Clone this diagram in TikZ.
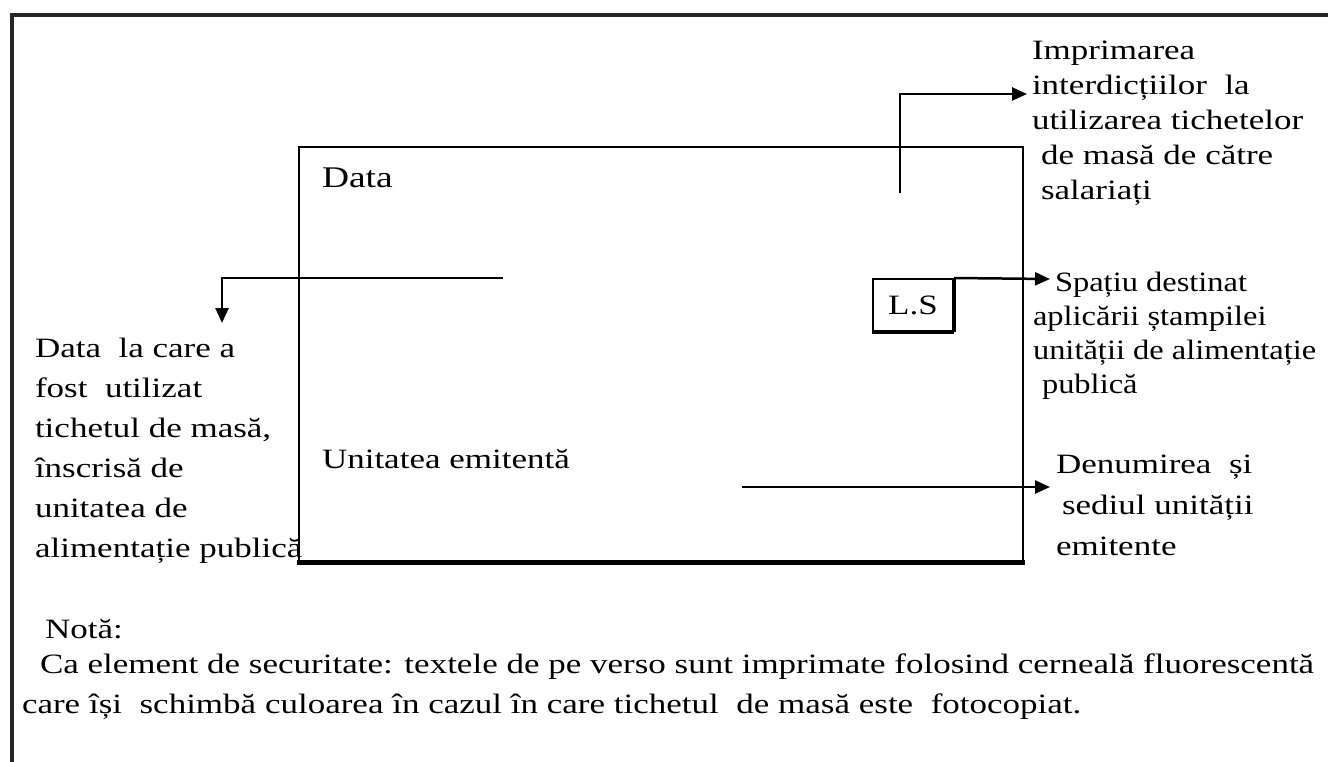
\documentclass[tikz,border=0pt]{standalone}
\usepackage{fontspec}
\setmainfont[FakeStretch=1.25]{Liberation Serif}
\newfontfamily\narrowserif[FakeStretch=1.16]{Liberation Serif}
\usetikzlibrary{arrows.meta}
\begin{document}
\begin{tikzpicture}[x=1pt,y=-1pt,
  txt/.style={inner sep=0pt, outer sep=0pt, align=left, anchor=base west, font=\fontsize{28}{40}\selectfont},
  conn/.style={line width=2.5pt, -{Triangle[length=15pt,width=13pt]}},
  framel/.style={line width=3.5pt, draw=black!85},
  ticket/.style={draw, line width=2pt, inner sep=0pt, anchor=north west},
  lsbox/.style={draw, line width=2pt, inner sep=0pt, anchor=north west, font=\fontsize{28}{34}\selectfont}]
\useasboundingbox (0,0) rectangle (1328,762);
% outer frame
\coordinate (F0) at (12,762);
\coordinate (F1) at (12,15);
\coordinate (F2) at (1328,15);
\draw[framel] (F0) -- (F1) -- (F2);
% ticket
\node[ticket, minimum width=724pt, minimum height=414pt] (ticket) at (298,146) {};
\draw[line width=5pt] ([xshift=-1pt]ticket.south west) -- ([xshift=1pt]ticket.south east);
\node[txt, font=\fontsize{30}{36}\selectfont] (data) at (322,188) {Data};
\node[txt] (unit) at (322,468) {Unitatea emitentă};
% L.S box
\node[lsbox, minimum width=80pt, minimum height=52pt] (ls) at (872,278) {L.S};
\draw[line width=4pt] (ls.south west) -- (ls.south east);
\draw[line width=4pt] (ls.north east) -- (ls.south east);
% labels (base west = baseline of the last line)
\node[txt, font=\fontsize{28}{35}\selectfont] (imp) at (1032,200) {Imprimarea\\interdicțiilor\ \ la\\utilizarea tichetelor\\\hspace{9pt}de masă de către\\\hspace{9pt}salariați};
\node[txt, font=\narrowserif\fontsize{28}{34}\selectfont] (spa) at (1033,393) {\hspace{22pt}Spațiu destinat\\aplicării ștampilei\\unității de alimentație\\\hspace{9pt}publică};
\node[txt] (datal) at (35,557) {Data\ \ la care a\\fost\ \ utilizat\\tichetul de masă,\\înscrisă de\\unitatea de\\alimentație publică};
\node[txt, font=\fontsize{28}{41}\selectfont] (den) at (1056,555) {Denumirea\ \ și\\\hspace{6pt}sediul unității\\emitente};
\node[txt] (nota) at (45,638) {Notă:};
\node[txt] (notb) at (40,673) {Ca element de securitate: textele de pe verso sunt imprimate folosind cerneală fluorescentă};
\node[txt] (notc) at (22,713) {care își\ \ schimbă culoarea în cazul în care tichetul\ \ de masă este\ \ fotocopiat.};
% connectors
\coordinate (a1s) at (900,193);
\coordinate (a1e) at (1027,94);
\draw[conn] (a1s) |- (a1e);
\coordinate (a2e) at (1050,279);
\draw[conn] (ls.north east) -- (a2e);
\coordinate (a3s) at (503,278);
\coordinate (a3e) at (222,323);
\draw[conn] (a3s) -| (a3e);
\coordinate (a4s) at (742,487);
\coordinate (a4e) at (1050,487);
\draw[conn] (a4s) -- (a4e);
\end{tikzpicture}
\end{document}
